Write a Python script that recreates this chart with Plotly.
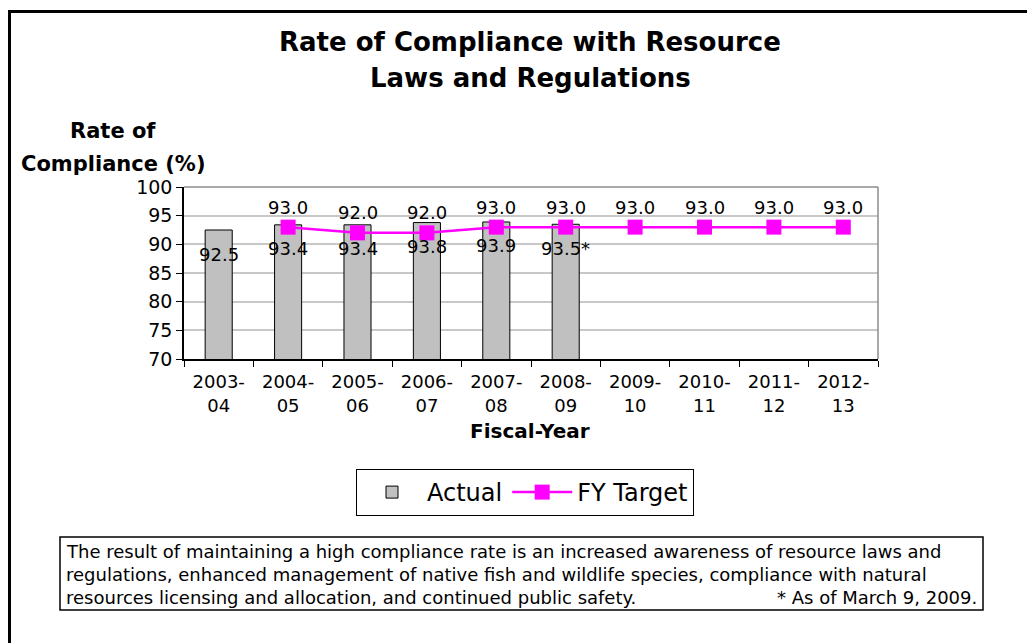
import plotly.graph_objects as go

categories = ["2003-04", "2004-05", "2005-06", "2006-07", "2007-08",
              "2008-09", "2009-10", "2010-11", "2011-12", "2012-13"]
tick_labels = ["2003-<br>04", "2004-<br>05", "2005-<br>06", "2006-<br>07", "2007-<br>08",
               "2008-<br>09", "2009-<br>10", "2010-<br>11", "2011-<br>12", "2012-<br>13"]

actual_years = ["2003-04", "2004-05", "2005-06", "2006-07", "2007-08", "2008-09"]
actual_values = [92.5, 93.4, 93.4, 93.8, 93.9, 93.5]
actual_labels = ["92.5", "93.4", "93.4", "93.8", "93.9", "93.5*"]

target_years = ["2004-05", "2005-06", "2006-07", "2007-08", "2008-09",
                "2009-10", "2010-11", "2011-12", "2012-13"]
target_values = [93.0, 92.0, 92.0, 93.0, 93.0, 93.0, 93.0, 93.0, 93.0]
target_labels = ["93.0", "92.0", "92.0", "93.0", "93.0", "93.0", "93.0", "93.0", "93.0"]

y_ticks = [70, 75, 80, 85, 90, 95, 100]

title_lines = ["Rate of Compliance with Resource", "Laws and Regulations"]
y_title_lines = ["Rate of", "Compliance (%)"]
x_title = "Fiscal-Year"
note_lines = [
    "The result of maintaining a high compliance rate is an increased awareness of resource laws and",
    "regulations, enhanced management of native fish and wildlife species, compliance with natural",
    "resources licensing and allocation, and continued public safety.",
]
note_footnote = "* As of March 9, 2009."

FONT = "DejaVu Sans"
PAGE_W, PAGE_H = 1035, 643
OFF = 8  # page body margin of the html page
L, R, T, B = 184, 878, 187, 359  # plot area in page pixels


def px_x(p):
    return (p - L) / (R - L)


def px_y(p):
    return (B - p) / (B - T)


fig = go.Figure()

fig.add_trace(go.Bar(
    x=actual_years, y=actual_values, name="Actual",
    marker=dict(color="#C0C0C0", line=dict(color="black", width=1)),
    width=0.39,
))

fig.add_trace(go.Scatter(
    x=target_years, y=target_values, name="FY Target", mode="lines+markers",
    line=dict(color="#FF00FF", width=2.5),
    marker=dict(symbol="square", size=15, color="#FF00FF"),
))

annotations = []
for x, y, t in zip(actual_years, actual_values, actual_labels):
    annotations.append(dict(x=x, y=y, text=t, showarrow=False, yshift=-24,
                            yanchor="middle", font=dict(family=FONT, size=18, color="black")))
for x, y, t in zip(target_years, target_values, target_labels):
    annotations.append(dict(x=x, y=y, text=t, showarrow=False, yshift=20,
                            yanchor="middle", font=dict(family=FONT, size=18, color="black")))

# chart title
for i, line in enumerate(title_lines):
    annotations.append(dict(xref="paper", yref="paper", x=px_x(530), y=px_y(42 + i * 36),
                            text="<b>%s</b>" % line, showarrow=False, xanchor="center",
                            yanchor="middle", font=dict(family=FONT, size=26, color="black")))
# y-axis title
for i, line in enumerate(y_title_lines):
    annotations.append(dict(xref="paper", yref="paper", x=px_x(113), y=px_y(131 + i * 33),
                            text="<b>%s</b>" % line, showarrow=False, xanchor="center",
                            yanchor="middle", font=dict(family=FONT, size=21, color="black")))
# x-axis title
annotations.append(dict(xref="paper", yref="paper", x=px_x(530), y=px_y(431),
                        text="<b>%s</b>" % x_title, showarrow=False, xanchor="center",
                        yanchor="middle", font=dict(family=FONT, size=20, color="black")))
# note
for i, line in enumerate(note_lines):
    annotations.append(dict(xref="paper", yref="paper", x=px_x(64), y=px_y(551 + i * 23),
                            text=line, showarrow=False, xanchor="left",
                            yanchor="middle", font=dict(family=FONT, size=18, color="black")))
annotations.append(dict(xref="paper", yref="paper", x=px_x(979), y=px_y(551 + 2 * 23),
                        text=note_footnote, showarrow=False, xanchor="right",
                        yanchor="middle", font=dict(family=FONT, size=18, color="black")))

shapes = [
    # plot area top/right border
    dict(type="line", xref="paper", yref="paper", x0=0, x1=1, y0=1, y1=1,
         line=dict(color="#8C8C8C", width=1.5)),
    dict(type="line", xref="paper", yref="paper", x0=1, x1=1, y0=0, y1=1,
         line=dict(color="#8C8C8C", width=1.5)),
    # note box
    dict(type="rect", xref="paper", yref="paper", x0=px_x(60), x1=px_x(983),
         y0=px_y(537), y1=px_y(610), line=dict(color="black", width=1.5)),
    # outer frame
    dict(type="rect", xref="paper", yref="paper", x0=px_x(9.5), x1=px_x(1050),
         y0=px_y(11.5), y1=px_y(660), line=dict(color="black", width=3)),
]

fig.update_layout(
    width=PAGE_W - OFF, height=PAGE_H - OFF,
    margin=dict(l=L - OFF, r=PAGE_W - R, t=T - OFF, b=PAGE_H - B, pad=0),
    paper_bgcolor="white", plot_bgcolor="white",
    font=dict(family=FONT, size=18, color="black"),
    showlegend=True,
    legend=dict(orientation="h", x=px_x(525), xanchor="center", y=px_y(469), yanchor="top",
                bordercolor="black", borderwidth=1, font=dict(family=FONT, size=24),
                itemwidth=60, bgcolor="white", tracegroupgap=0),
    annotations=annotations,
    shapes=shapes,
)

fig.update_xaxes(
    type="category", categoryorder="array", categoryarray=categories,
    range=[-0.5, len(categories) - 0.5],
    tickvals=categories, ticktext=tick_labels,
    tickson="boundaries", ticks="outside", ticklen=6, tickcolor="black",
    showline=True, linecolor="black", linewidth=1.5,
    showgrid=False, tickfont=dict(family=FONT, size=18), ticklabelstandoff=6,
)
fig.update_yaxes(
    range=[70, 100], tickvals=y_ticks, ticks="outside", ticklen=6, tickcolor="black",
    showline=True, linecolor="black", linewidth=1.5,
    showgrid=True, gridcolor="#C8C8C8", gridwidth=1.5, zeroline=False,
    tickfont=dict(family=FONT, size=19),
)

fig.write_html("out.html")
